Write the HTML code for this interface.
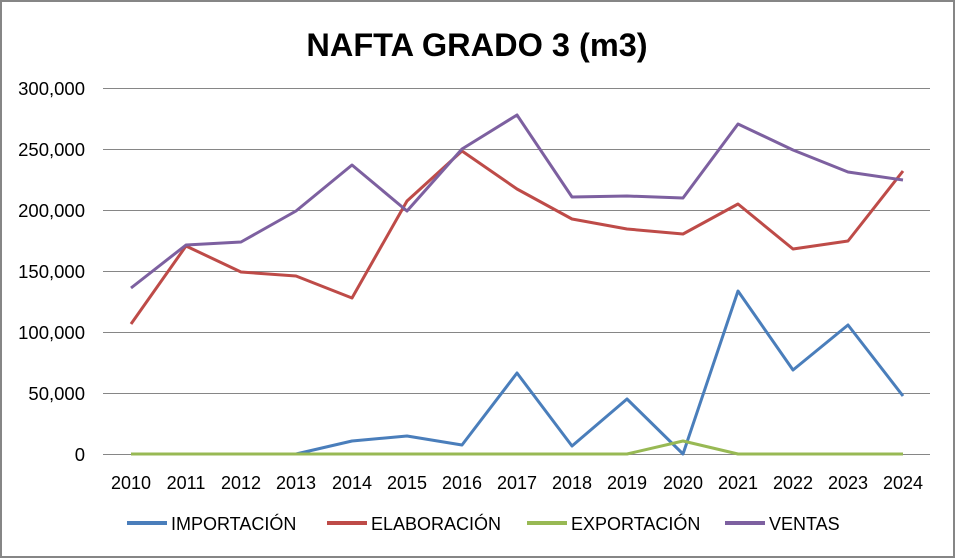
<!DOCTYPE html>
<html><head><meta charset="utf-8"><style>
html,body{margin:0;padding:0;background:#fff;}
svg{display:block;}
text{font-family:"Liberation Sans",sans-serif;fill:#000;}
</style></head><body>
<svg width="955" height="558" viewBox="0 0 955 558">
<rect x="1" y="1" width="953" height="556" fill="#fff" stroke="#868686" stroke-width="2"/>
<text x="477" y="56" font-size="32.5" font-weight="bold" text-anchor="middle">NAFTA GRADO 3 (m3)</text>
<g stroke="#868686" stroke-width="1">
<line x1="103" x2="930" y1="88.5" y2="88.5"/>
<line x1="103" x2="930" y1="149.5" y2="149.5"/>
<line x1="103" x2="930" y1="210.5" y2="210.5"/>
<line x1="103" x2="930" y1="271.5" y2="271.5"/>
<line x1="103" x2="930" y1="332.5" y2="332.5"/>
<line x1="103" x2="930" y1="393.5" y2="393.5"/>
<line x1="103" x2="930" y1="454.5" y2="454.5"/>
</g>
<g font-size="18.5" text-anchor="end">
<text x="85" y="95">300,000</text>
<text x="85" y="156">250,000</text>
<text x="85" y="217">200,000</text>
<text x="85" y="278">150,000</text>
<text x="85" y="339">100,000</text>
<text x="85" y="400">50,000</text>
<text x="85" y="461">0</text>
</g>
<g font-size="18" text-anchor="middle">
<text x="131" y="489">2010</text><text x="186" y="489">2011</text><text x="241" y="489">2012</text><text x="296" y="489">2013</text><text x="352" y="489">2014</text><text x="407" y="489">2015</text><text x="462" y="489">2016</text><text x="517" y="489">2017</text><text x="572" y="489">2018</text><text x="627" y="489">2019</text><text x="683" y="489">2020</text><text x="738" y="489">2021</text><text x="793" y="489">2022</text><text x="848" y="489">2023</text><text x="903" y="489">2024</text>
</g>
<g fill="none" stroke-width="3" stroke-linejoin="round">
<polyline stroke="#4a7ebb" points="131,454 186,454 241,454 296,454 352,441 407,436 462,445 517,373 572,446 627,399 683,454 738,291 793,370 848,325 903,396"/>
<polyline stroke="#be4b48" points="131,324 186,246 241,272 296,276 352,298 407,201 462,151 517,189 572,219 627,229 683,234 738,204 793,249 848,241 903,171"/>
<polyline stroke="#98b954" points="131,454 186,454 241,454 296,454 352,454 407,454 462,454 517,454 572,454 627,454 683,441 738,454 793,454 848,454 903,454"/>
<polyline stroke="#7d60a0" points="131,288 186,245 241,242 296,211 352,165 407,211 462,149 517,115 572,197 627,196 683,198 738,124 793,150 848,172 903,180"/>
</g>
<g stroke-width="4">
<line x1="127" x2="167" y1="523" y2="523" stroke="#4a7ebb"/>
<line x1="327" x2="367" y1="523" y2="523" stroke="#be4b48"/>
<line x1="527" x2="567" y1="523" y2="523" stroke="#98b954"/>
<line x1="725" x2="765" y1="523" y2="523" stroke="#7d60a0"/>
</g>
<g font-size="18">
<text x="171" y="530">IMPORTACIÓN</text>
<text x="371" y="530">ELABORACIÓN</text>
<text x="571" y="530">EXPORTACIÓN</text>
<text x="769" y="530">VENTAS</text>
</g>
</svg>
</body></html>
